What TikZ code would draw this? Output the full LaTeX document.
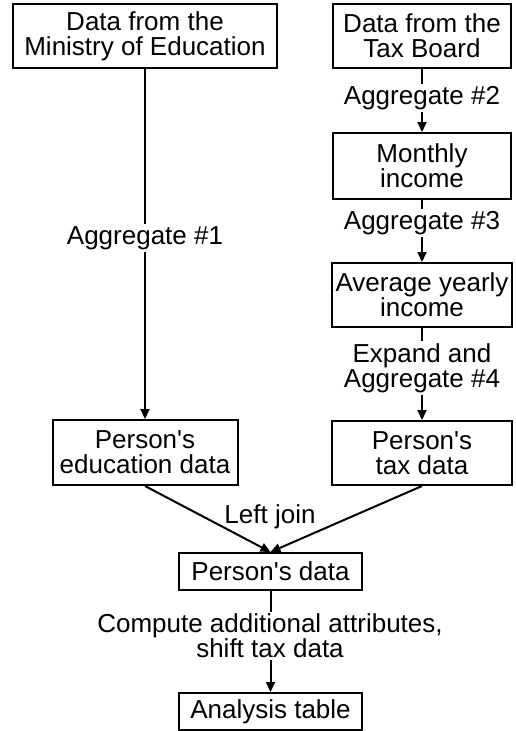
\documentclass[tikz,border=0pt]{standalone}
\usepackage{fontspec}
\setmainfont{Liberation Sans}[Ligatures=TeXOff]
\usetikzlibrary{arrows.meta}
\begin{document}
\begin{tikzpicture}[x=1pt,y=-1pt,
  txt/.style={font=\fontsize{26}{25}\selectfont,align=center},
  box/.style={txt,draw,line width=2pt,inner sep=0pt},
  lbl/.style={txt,fill=white,inner sep=2pt},
  flow/.style={line width=2pt,-{Triangle[length=10pt,width=9pt]}}]
\useasboundingbox (0,0) rectangle (516,731);
% boxes
\node[box,minimum width=264pt,minimum height=64pt] (esrc) at (145,36) {Data from the\\Ministry of Education};
\node[box,minimum width=178pt,minimum height=64pt] (tsrc) at (422,36) {Data from the\\Tax Board};
\node[box,minimum width=178pt,minimum height=66pt] (month) at (422,166) {Monthly\\income};
\node[box,minimum width=180pt,minimum height=64pt] (avg) at (422,295) {Average yearly\\income};
\node[box,minimum width=185pt,minimum height=65pt] (epers) at (145,452.5) {Person's\\education data};
\node[box,minimum width=180pt,minimum height=64pt] (tpers) at (422,453) {Person's\\tax data};
\node[box,minimum width=183pt,minimum height=37pt] (pdata) at (270.5,571.5) {Person's data};
\node[box,minimum width=183pt,minimum height=37pt] (atab) at (270.5,711.5) {Analysis table};
% connectors
\draw[flow] (esrc.south) -- (epers.north);
\draw[flow] (tsrc.south) -- (month.north);
\draw[flow] (month.south) -- (avg.north);
\draw[flow] (avg.south) -- (tpers.north);
\draw[flow] (epers.south) -- (pdata.north);
\draw[flow] (tpers.south) -- (pdata.north);
\draw[flow] (pdata.south) -- (atab.north);
% labels
\node[lbl] (l1) at (145,238) {Aggregate \#1};
\node[lbl] (l2) at (422,98) {Aggregate \#2};
\node[lbl] (l3) at (422,223) {Aggregate \#3};
\node[lbl] (l4) at (422,368) {Expand and\\Aggregate \#4};
\node[txt,inner sep=0pt] (lj) at (270,517) {Left join};
\node[lbl] (l5) at (270,636) {Compute additional attributes,\\shift tax data};
\end{tikzpicture}
\end{document}
